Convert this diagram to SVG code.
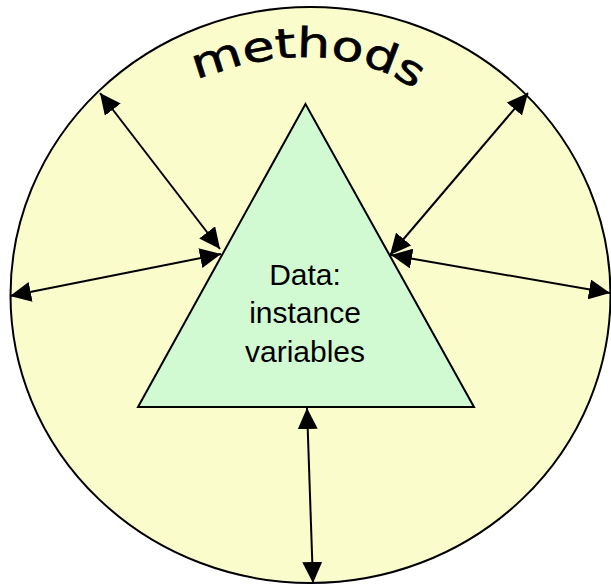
<svg xmlns="http://www.w3.org/2000/svg" width="611" height="585" viewBox="0 0 611 585">
<defs>
<style>
.conn{stroke:#000;stroke-width:2;fill:none;marker-start:url(#ah);marker-end:url(#ah)}
.lbl{font-family:"Liberation Sans",Arial,sans-serif;font-size:30px;fill:#000;text-anchor:middle}
</style>
<marker id="ah" markerUnits="userSpaceOnUse" markerWidth="21" markerHeight="20" refX="21" refY="10" orient="auto-start-reverse" viewBox="0 0 21 20">
<path d="M0,0 L21,10 L0,20 z" fill="#000"/>
</marker>
<path id="arc" d="M192,82 C240,62 345,30 428,100"/>
</defs>
<rect width="611" height="585" fill="#fff"/>
<g id="methods">
<ellipse cx="310.5" cy="295" rx="300" ry="288" fill="#fafccc" stroke="#000" stroke-width="2"/>
<text font-family="'DejaVu Sans',sans-serif" font-size="41" fill="#000" stroke="#000" stroke-width="0.7" text-anchor="start"><textPath href="#arc" startOffset="5" textLength="228" lengthAdjust="spacingAndGlyphs">methods</textPath></text>
</g>
<g id="data">
<polygon points="305.5,104 138,407 474,407" fill="#d2fad2" stroke="#000" stroke-width="2"/>
<text class="lbl" x="305" y="285">Data:</text>
<text class="lbl" x="305" y="323">instance</text>
<text class="lbl" x="305" y="362">variables</text>
</g>
<g id="connectors">
<line class="conn" x1="100" y1="93" x2="220" y2="249"/>
<line class="conn" x1="10" y1="296" x2="221" y2="254"/>
<line class="conn" x1="528" y1="93" x2="390" y2="255"/>
<line class="conn" x1="391" y1="255" x2="610" y2="293"/>
<line class="conn" x1="307" y1="408" x2="313" y2="583"/>
</g>
</svg>
